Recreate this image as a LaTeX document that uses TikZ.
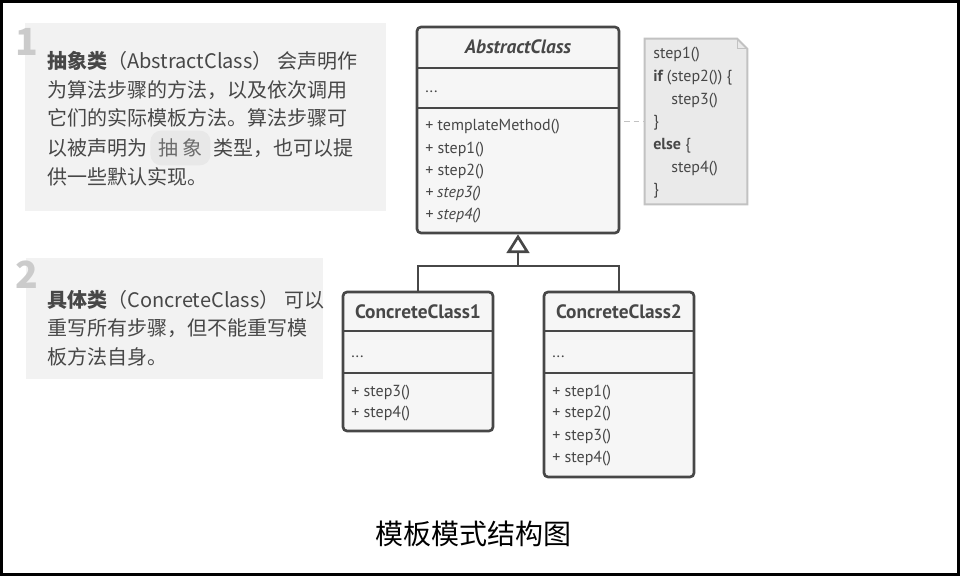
\documentclass[tikz,border=0pt]{standalone}
\usepackage{fontspec}
\setmainfont{PT Sans}
\newfontfamily\cjk{Noto Sans CJK SC}
\usetikzlibrary{arrows.meta,positioning,fit}
\definecolor{ink}{HTML}{474747}
\definecolor{panel}{HTML}{F2F2F2}
\definecolor{boxfill}{HTML}{F6F6F6}
\definecolor{notefill}{HTML}{EAEAEA}
\definecolor{noteline}{HTML}{C2C2C2}
\definecolor{digit}{HTML}{CBCBCB}
\definecolor{hilite}{HTML}{E8E8E8}

\begin{document}
\begin{tikzpicture}[x=0.75pt,y=-0.75pt,
 cls/.style={draw=ink,fill=boxfill,line width=2pt,rounded corners=3pt,inner sep=0pt},
 sep/.style={draw=ink,line width=2pt},
 title/.style={text=ink,font=\bfseries\fontsize{14.5}{16}\selectfont,inner sep=0pt},
 member/.style={text=ink,font=\fontsize{12}{14}\selectfont,anchor=west,inner sep=0pt},
 pad/.style={fill=panel,inner sep=0pt},
 num/.style={text=digit,font=\cjk\bfseries\fontsize{28}{28}\selectfont,inner sep=0pt},
 txt/.style={text=ink,font=\cjk\fontsize{15}{18}\selectfont,anchor=west,inner sep=0pt},
 gen/.style={draw=ink,line width=2pt},
 dashline/.style={draw=noteline,line width=1.2pt,dash pattern=on 4pt off 3pt}
]
\useasboundingbox (0,0) rectangle (963,581);
\draw[line width=2.25pt] (1.5,2) rectangle (958.5,574.5);

\node[pad,fit={(25,23) (386,211)}] (pad1) {};
\node[num] (n1) at (27,42) {1};
\node[txt] (l1) at (47,61) {{\bfseries 抽象类}（AbstractClass） 会声明作};
\node[txt] (l2) at (47,90) {为算法步骤的方法，以及依次调用};
\node[txt] (l3) at (47,118) {它们的实际模板方法。算法步骤可};
\node[txt] (l4a) at (47,148) {以被声明为};
\node[txt,fill=hilite,rounded corners=8pt,inner xsep=6pt,minimum height=26pt,right=2pt of l4a,text=ink!80] (hl) {抽\hspace{3pt}象};
\node[txt,right=2pt of hl] (l4b) {类型，也可以提};
\node[txt] (l5) at (47,177) {供一些默认实现。};

\node[pad,fit={(26,258) (323,379)}] (pad2) {};
\node[num] (n2) at (27,275) {2};
\node[txt] (m1) at (47,300) {{\bfseries 具体类}（ConcreteClass） 可以};
\node[txt] (m2) at (47,328) {重写所有步骤，但不能重写模};
\node[txt] (m3) at (47,357) {板方法自身。};

\node[cls,fit={(417,27) (619,233)}] (abs) {};
\draw[sep] (417,68) -- (619,68);
\draw[sep] (417,108) -- (619,108);
\node[title,font=\bfseries\itshape\fontsize{14.5}{16}\selectfont] (absname) at (518,47) {AbstractClass};
\node[member] (absf) at (425,92) {...};
\node[member] (a1) at (425,127) {+ templateMethod()};
\node[member] (a2) at (425,150) {+ step1()};
\node[member] (a3) at (425,172) {+ step2()};
\node[member,font=\itshape\fontsize{12}{14}\selectfont] (a4) at (425,194) {+ step3()};
\node[member,font=\itshape\fontsize{12}{14}\selectfont] (a5) at (425,216) {+ step4()};

\node[fit={(645,39) (747,204)},inner sep=0pt] (note) {};
\draw[draw=noteline,fill=notefill,line width=1.5pt] (note.north west) -- ([xshift=-7.5pt]note.north east) -- ([yshift=-7.5pt]note.north east) -- (note.south east) -- (note.south west) -- cycle;
\draw[draw=noteline,line width=1pt] ([xshift=-7.5pt]note.north east) |- ([yshift=-7.5pt]note.north east);
\node[member] (t1) at (653,55) {step1()};
\node[member] (t2) at (653,78) {{\bfseries if} (step2()) \{};
\node[member] (t3) at (671,101) {step3()};
\node[member] (t4) at (653,123) {\}};
\node[member] (t5) at (653,146) {{\bfseries else} \{};
\node[member] (t6) at (671,169) {step4()};
\node[member] (t7) at (653,191) {\}};
\draw[dashline] ([xshift=3pt]abs.east |- note.west) -- (note.west);

\node[cls,fit={(343,292) (493,431)}] (cc1) {};
\draw[sep] (343,331) -- (493,331);
\draw[sep] (343,373) -- (493,373);
\node[title] (cc1name) at (418,312) {ConcreteClass1};
\node[member] (c1f) at (351,357) {...};
\node[member] (c11) at (351,393) {+ step3()};
\node[member] (c12) at (351,414) {+ step4()};

\node[cls,fit={(544,292) (694,477)}] (cc2) {};
\draw[sep] (544,331) -- (694,331);
\draw[sep] (544,373) -- (694,373);
\node[title] (cc2name) at (619,312) {ConcreteClass2};
\node[member] (c2f) at (552,357) {...};
\node[member] (c21) at (552,393) {+ step1()};
\node[member] (c22) at (552,414) {+ step2()};
\node[member] (c23) at (552,437) {+ step3()};
\node[member] (c24) at (552,459) {+ step4()};

\coordinate (joint) at (518,266);
\draw[gen] (cc1.north) |- (joint) -| (cc2.north);
\draw[gen,-{Triangle[open,length=14pt,width=17pt]}] (joint) -- (abs.south);

\node[font=\cjk\fontsize{21}{24}\selectfont] (cap) at (473,534) {模板模式结构图};
\end{tikzpicture}
\end{document}
